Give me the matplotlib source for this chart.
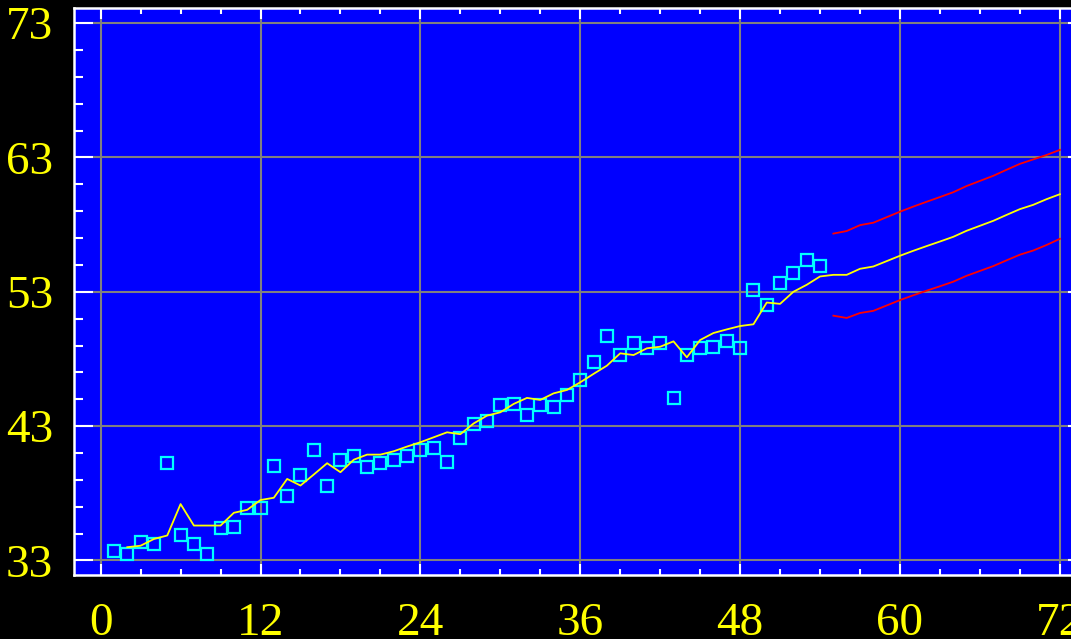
import matplotlib.pyplot as plt
from matplotlib.ticker import MultipleLocator, FixedLocator

# observed series (open squares)
obs_t = list(range(1, 55))
obs = [33.74, 33.45, 34.36, 34.20, 40.23, 34.86, 34.24, 33.45, 35.40, 35.50,
       36.90, 36.90, 40.00, 37.82, 39.37, 41.25, 38.58, 40.49, 40.76, 39.99,
       40.24, 40.49, 40.76, 41.25, 41.38, 40.36, 42.13, 43.16, 43.41, 44.55,
       44.67, 43.80, 44.55, 44.43, 45.32, 46.45, 47.78, 49.68, 48.29, 49.16,
       48.79, 49.16, 45.10, 48.29, 48.79, 48.91, 49.31, 48.79, 53.13, 51.98,
       53.62, 54.39, 55.40, 54.91]

# fitted values
fit_t = list(range(2, 55))
fit = [33.99, 34.10, 34.60, 34.86, 37.20, 35.60, 35.60, 35.60, 36.55, 36.77,
       37.50, 37.67, 39.07, 38.58, 39.40, 40.24, 39.57, 40.50, 40.88, 40.88,
       41.13, 41.48, 41.80, 42.17, 42.54, 42.40, 43.20, 43.78, 44.03, 44.65,
       45.10, 44.95, 45.44, 45.69, 46.26, 46.89, 47.50, 48.42, 48.29, 48.79,
       48.91, 49.31, 48.12, 49.41, 49.93, 50.20, 50.45, 50.58, 52.20, 52.10,
       53.00, 53.52, 54.14]

# forecast with upper / lower bounds
fc_t = list(range(55, 73))
fc = [54.26, 54.26, 54.71, 54.88, 55.28, 55.68, 56.05, 56.40, 56.74, 57.09,
      57.54, 57.91, 58.28, 58.72, 59.15, 59.47, 59.89, 60.26]
fc_hi = [57.33, 57.52, 57.96, 58.14, 58.55, 58.96, 59.34, 59.70, 60.05, 60.41,
         60.87, 61.25, 61.63, 62.08, 62.52, 62.85, 63.18, 63.56]
fc_lo = [51.22, 51.05, 51.42, 51.58, 51.98, 52.38, 52.74, 53.08, 53.41, 53.75,
         54.19, 54.55, 54.91, 55.34, 55.76, 56.07, 56.48, 56.94]

fig = plt.figure(figsize=(10.71, 6.39), dpi=100, facecolor='black')
ax = fig.add_axes([74 / 1071, 64 / 639, 1012.5 / 1071, 567 / 639])
ax.set_facecolor('#0000ff')

ax.plot(obs_t, obs, 's', mfc='none', mec='#00ffff', ms=8, mew=1.6, zorder=3)
ax.plot(fit_t + fc_t, fit + fc, color='yellow', lw=1.3, zorder=4)
ax.plot(fc_t, fc_hi, color='red', lw=1.3, zorder=4)
ax.plot(fc_t, fc_lo, color='red', lw=1.3, zorder=4)

ax.set_xlim(-2, 74)
ax.set_ylim(31.92, 74.12)

ax.xaxis.set_major_locator(FixedLocator([0, 12, 24, 36, 48, 60, 72]))
ax.xaxis.set_minor_locator(MultipleLocator(3))
ax.yaxis.set_major_locator(FixedLocator([33, 43, 53, 63, 73]))
ax.yaxis.set_minor_locator(FixedLocator(list(range(33, 75, 2))))

ax.grid(True, which='major', color='#808080', lw=1.5)
ax.set_axisbelow(True)

for s in ax.spines.values():
    s.set_color('white')
    s.set_linewidth(1.8)

ax.tick_params(axis='both', which='both', direction='in', colors='white',
               top=True, right=True, width=1.5, labelcolor='yellow')
ax.tick_params(axis='x', which='major', length=8, pad=20)
ax.tick_params(axis='x', which='minor', length=4)
ax.tick_params(axis='y', which='major', length=14, pad=15)
ax.tick_params(axis='y', which='minor', length=6.5)

for lab in ax.get_xticklabels() + ax.get_yticklabels():
    lab.set_fontfamily('Liberation Serif')
    lab.set_fontsize(34)

fig.savefig('out.png', dpi=100, facecolor='black')
